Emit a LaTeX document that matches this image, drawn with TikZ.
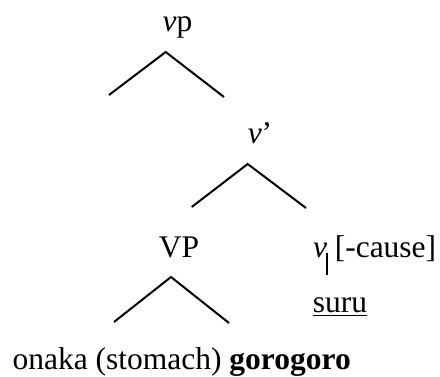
\documentclass[tikz,border=0pt]{standalone}
\usepackage{fontspec}
\setmainfont{Liberation Serif}
\begin{document}
\begin{tikzpicture}[x=0.5pt,y=-0.5pt,line width=1pt,
    every node/.style={inner sep=0pt,anchor=base,font=\fontsize{15.75}{19}\selectfont}]
    \useasboundingbox (0,0) rectangle (440,376);
    \node (vp) at (177.5,31) {\textit{v}p};
    \coordinate (vp_top) at (165.7,52);
    \coordinate (vp_l) at (109,95);
    \coordinate (vp_r) at (224,97);
    \draw (vp_l) -- (vp_top) -- (vp_r);
    \node (vbar) at (260,143) {\textit{v}'};
    \coordinate (vbar_top) at (247.7,164);
    \coordinate (vbar_l) at (191.7,207);
    \coordinate (vbar_r) at (306,208);
    \draw (vbar_l) -- (vbar_top) -- (vbar_r);
    \node (VP) at (179,257) {VP};
    \coordinate (VP_top) at (171,277);
    \coordinate (VP_l) at (114,322);
    \coordinate (VP_r) at (229,323);
    \draw (VP_l) -- (VP_top) -- (VP_r);
    \node (v) at (320,257) {\textit{v}};
    \node (cause) at (385.5,257) {[-cause]};
    \coordinate (v_tick) at (327,253);
    \coordinate (v_foot) at (327,275);
    \draw (v_tick) -- (v_foot);
    \node (suru) at (340,312) {\underline{suru}};
    \node (gloss) at (181.7,369) {onaka (stomach) \textbf{gorogoro}};
\end{tikzpicture}
\end{document}
